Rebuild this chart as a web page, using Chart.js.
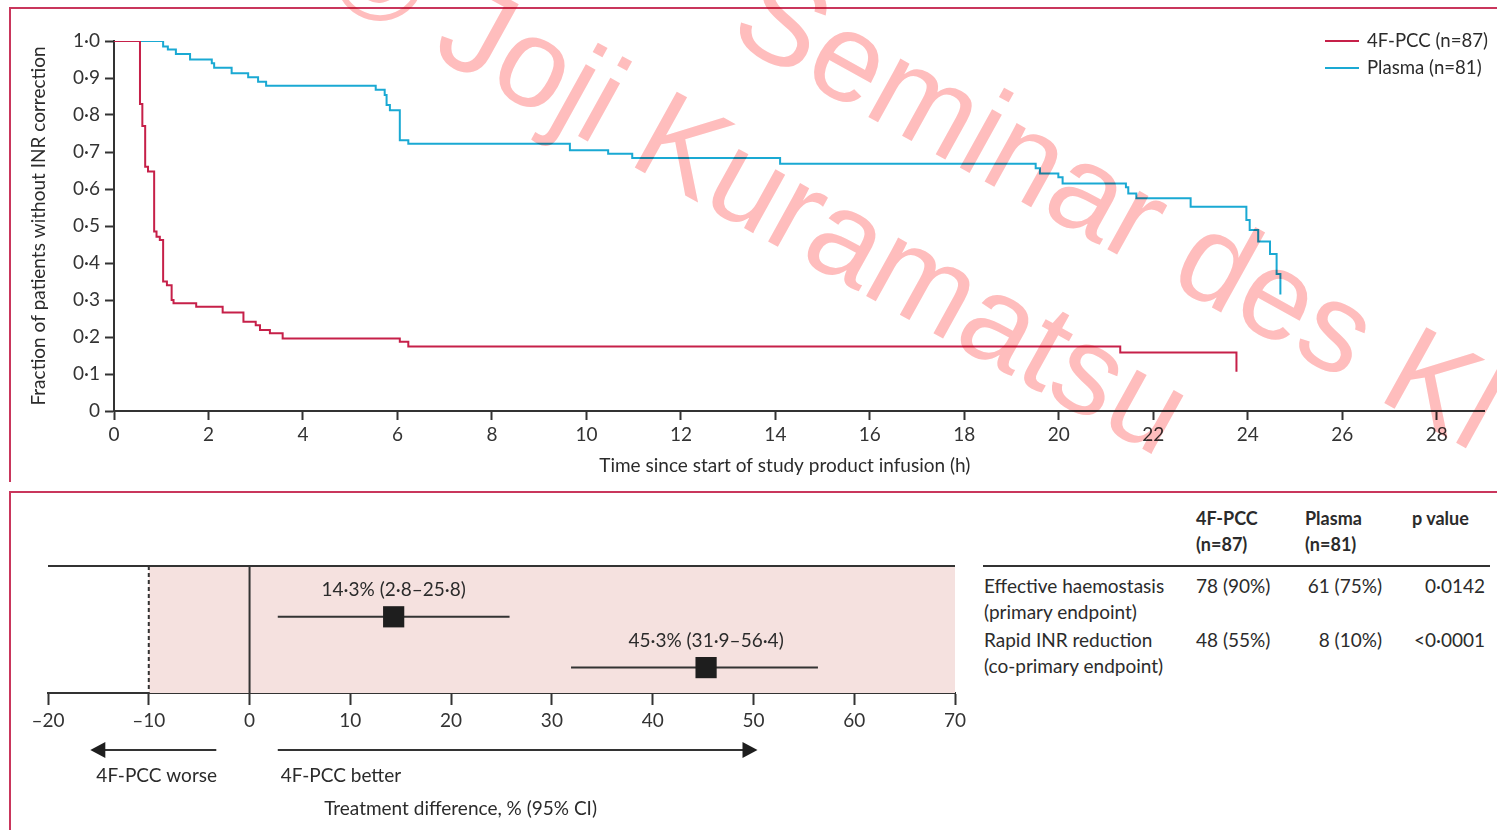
<!DOCTYPE html>
<html>
<head>
<meta charset="utf-8">
<script src="https://cdn.jsdelivr.net/npm/chart.js@4.4.1/dist/chart.umd.min.js"></script>
<style>
  html, body { margin: 0; padding: 0; background: #fff; }
  body { width: 1497px; height: 830px; position: relative; overflow: hidden; font-family: Lato, sans-serif; color: #2b2b2b; }
  .frame { position: absolute; background: #c9365c; }
  #kmWrap { position: absolute; left: 0; top: 0; }
  #forestWrap { position: absolute; left: 0; top: 492px; }
  .cell { position: absolute; font-size: 19px; line-height: 22px; white-space: nowrap; }
  .bold { font-weight: bold; font-size: 18px; }
  .rule { position: absolute; background: #333; height: 2px; }
  #wm { position: absolute; left: 0; top: 0; pointer-events: none; mix-blend-mode: multiply; }
</style>
</head>
<body>

<div class="frame" style="left:10px; top:7px; width:1487px; height:2px"></div>
<div class="frame" style="left:9px; top:7px; width:2px; height:475px"></div>
<div class="frame" style="left:10px; top:491px; width:1487px; height:2px"></div>
<div class="frame" style="left:9px; top:491px; width:2px; height:339px"></div>

<div id="kmWrap"><canvas id="km" width="1497" height="485"></canvas></div>
<div id="forestWrap"><canvas id="forest" width="980" height="338"></canvas></div>
<div id="table"></div>

<svg id="wm" width="1497" height="830">
  <g font-family="Liberation Sans, Arial, sans-serif" font-size="126" fill="#ffbdbd">
    <text x="726" y="38" transform="rotate(29 726 38)">Seminar des Kl</text>
    <text x="318" y="-8" transform="rotate(29 318 -8)">© Joji Kuramatsu</text>
  </g>
</svg>

<script>
// ---- Kaplan-Meier data ----
var seriesNames = ['4F-PCC (n=87)', 'Plasma (n=81)'];

var pccTime = [0, 0.55, 0.60, 0.66, 0.72, 0.85, 0.90, 0.97, 1.04, 1.12, 1.22, 1.26, 1.74, 2.30, 2.74, 3.00, 3.09, 3.30, 3.57, 6.05, 6.23, 21.3, 23.76];
var pccSurv = [1.0, 0.83, 0.77, 0.66, 0.647, 0.485, 0.471, 0.462, 0.35, 0.34, 0.30, 0.291, 0.282, 0.266, 0.241, 0.232, 0.219, 0.21, 0.196, 0.187, 0.174, 0.158, 0.106];

var plasmaTime = [0, 1.04, 1.14, 1.31, 1.61, 2.07, 2.12, 2.49, 2.84, 3.05, 3.22, 5.54, 5.73, 5.77, 5.84, 6.05, 6.23, 9.65, 10.46, 10.97, 14.1, 19.51, 19.6, 19.99, 20.08, 21.42, 21.47, 21.64, 22.79, 23.97, 24.04, 24.22, 24.47, 24.61, 24.69];
var plasmaSurv = [1.0, 0.985, 0.977, 0.965, 0.95, 0.94, 0.928, 0.913, 0.902, 0.89, 0.879, 0.868, 0.854, 0.827, 0.813, 0.732, 0.722, 0.705, 0.695, 0.684, 0.668, 0.656, 0.642, 0.632, 0.615, 0.605, 0.588, 0.575, 0.552, 0.516, 0.489, 0.458, 0.424, 0.37, 0.315];

var kmXTicks = [0, 2, 4, 6, 8, 10, 12, 14, 16, 18, 20, 22, 24, 26, 28];
var kmYTicks = [0, 0.1, 0.2, 0.3, 0.4, 0.5, 0.6, 0.7, 0.8, 0.9, 1.0];
var kmYLabels = ['0', '0·1', '0·2', '0·3', '0·4', '0·5', '0·6', '0·7', '0·8', '0·9', '1·0'];

// ---- forest plot data ----
var outcomes = ['Effective haemostasis', 'Rapid INR reduction'];
var diffEst = [14.3, 45.3];
var diffLow = [2.8, 31.9];
var diffHigh = [25.8, 56.4];
var rowPos = [1.5, 0.5];
var margin = -10;
var forestTicks = [-20, -10, 0, 10, 20, 30, 40, 50, 60, 70];
var forestLabels = ['–20', '–10', '0', '10', '20', '30', '40', '50', '60', '70'];

// ---- table ----
var tableHead = [['4F-PCC', '(n=87)'], ['Plasma', '(n=81)'], ['p value']];
var tableRows = [['Effective haemostasis', '(primary endpoint)'], ['Rapid INR reduction', '(co-primary endpoint)']];
var pccCounts = ['78 (90%)', '48 (55%)'];
var plasmaCounts = ['61 (75%)', '8 (10%)'];
var pValues = ['0·0142', '<0·0001'];

var pccColor = '#c62049';
var plasmaColor = '#1aa9d3';
var ink = '#2b2b2b';
var axisInk = '#333';

Chart.defaults.font.family = 'Lato, sans-serif';
Chart.defaults.font.size = 19;
Chart.defaults.color = ink;

function pts(xs, ys) {
  return xs.map(function (x, i) { return { x: x, y: ys[i] }; });
}

// legend block at top right + x title (centred a bit left of the plot area, as in the original)
var kmLegend = {
  id: 'kmLegend',
  afterDraw: function (chart) {
    var ctx = chart.ctx;
    ctx.save();
    chart.data.datasets.forEach(function (ds, i) {
      var y = 41 + i * 27;
      ctx.strokeStyle = ds.borderColor;
      ctx.lineWidth = 2;
      ctx.beginPath();
      ctx.moveTo(1325, y);
      ctx.lineTo(1359, y);
      ctx.stroke();
      ctx.fillStyle = ink;
      ctx.font = '18.6px Lato, sans-serif';
      ctx.textBaseline = 'middle';
      ctx.fillText(ds.label, 1367, y);
    });
    ctx.font = '19px Lato, sans-serif';
    ctx.textAlign = 'center';
    ctx.fillText('Time since start of study product infusion (h)', chart.scales.x.getPixelForValue(14.2), 466);
    ctx.restore();
  }
};

new Chart(document.getElementById('km').getContext('2d'), {
  type: 'line',
  data: {
    datasets: [{
      label: seriesNames[0],
      data: pts(pccTime, pccSurv),
      stepped: 'before',
      borderColor: pccColor,
      borderWidth: 2,
      pointRadius: 0,
      fill: false
    }, {
      label: seriesNames[1],
      data: pts(plasmaTime, plasmaSurv),
      stepped: 'before',
      borderColor: plasmaColor,
      borderWidth: 2,
      pointRadius: 0,
      fill: false
    }]
  },
  options: {
    responsive: false,
    animation: false,
    layout: { padding: { top: 41, right: 13, left: 0, bottom: 0 } },
    plugins: { legend: { display: false }, tooltip: { enabled: false } },
    scales: {
      x: {
        type: 'linear',
        min: 0,
        max: 29,
        afterBuildTicks: function (s) { s.ticks = kmXTicks.map(function (v) { return { value: v }; }); },
        afterFit: function (s) { s.height = 74; },
        ticks: { padding: 3, maxRotation: 0, color: axisInk, font: { size: 19 } },
        grid: { drawOnChartArea: false, tickLength: 9, tickColor: axisInk, tickWidth: 2 },
        border: { display: true, color: axisInk, width: 2 }
      },
      y: {
        min: 0,
        max: 1,
        afterBuildTicks: function (s) { s.ticks = kmYTicks.map(function (v) { return { value: v }; }); },
        afterFit: function (s) { s.width = 114; },
        ticks: {
          padding: 5,
          color: axisInk,
          font: { size: 19 },
          callback: function (v, i) { return kmYLabels[i]; }
        },
        grid: { drawOnChartArea: false, tickLength: 9, tickColor: axisInk, tickWidth: 2 },
        border: { display: true, color: axisInk, width: 2 },
        title: { display: true, text: 'Fraction of patients without INR correction', padding: { top: 27, bottom: 0 }, font: { size: 19 } }
      }
    }
  },
  plugins: [kmLegend]
});

function fmt(v) { return v.toFixed(1).replace('.', '·'); }

var arrowFrom = [-3.3, 2.8];
var arrowTo = [-15.8, 50.4];
var arrowText = ['4F-PCC worse', '4F-PCC better'];
var arrowTextAt = [-15.2, 3.1];

var forestDeco = {
  id: 'forestDeco',
  beforeDatasetsDraw: function (chart) {
    var x = chart.scales.x, a = chart.chartArea, ctx = chart.ctx;
    var xm = x.getPixelForValue(margin);
    var x0 = x.getPixelForValue(0);
    ctx.save();
    ctx.fillStyle = '#f5e1df';
    ctx.fillRect(xm, a.top, a.right - xm, a.bottom - a.top);
    ctx.strokeStyle = axisInk;
    ctx.lineWidth = 2;
    ctx.beginPath();
    ctx.moveTo(a.left, a.top);
    ctx.lineTo(a.right, a.top);
    ctx.moveTo(x0, a.top);
    ctx.lineTo(x0, a.bottom);
    ctx.stroke();
    ctx.setLineDash([4, 3]);
    ctx.beginPath();
    ctx.moveTo(xm, a.top);
    ctx.lineTo(xm, a.bottom);
    ctx.stroke();
    ctx.restore();
  },
  afterDraw: function (chart) {
    var x = chart.scales.x, y = chart.scales.y, ctx = chart.ctx;
    ctx.save();
    ctx.fillStyle = ink;
    ctx.font = '19px Lato, sans-serif';
    ctx.textAlign = 'center';
    ctx.textBaseline = 'middle';
    diffEst.forEach(function (v, i) {
      var txt = fmt(v) + '% (' + fmt(diffLow[i]) + '–' + fmt(diffHigh[i]) + ')';
      ctx.fillText(txt, x.getPixelForValue(v), y.getPixelForValue(rowPos[i]) - 27);
    });
    // direction arrows
    var ay = 258;
    ctx.strokeStyle = axisInk;
    ctx.lineWidth = 2;
    arrowFrom.forEach(function (f, i) {
      var p0 = x.getPixelForValue(f), p1 = x.getPixelForValue(arrowTo[i]);
      var dir = p1 > p0 ? 1 : -1;
      ctx.beginPath();
      ctx.moveTo(p0, ay);
      ctx.lineTo(p1 - dir * 12, ay);
      ctx.stroke();
      ctx.fillStyle = '#1e1e1e';
      ctx.beginPath();
      ctx.moveTo(p1, ay);
      ctx.lineTo(p1 - dir * 15, ay - 8);
      ctx.lineTo(p1 - dir * 15, ay + 8);
      ctx.closePath();
      ctx.fill();
      ctx.fillStyle = ink;
      ctx.textAlign = 'left';
      ctx.fillText(arrowText[i], x.getPixelForValue(arrowTextAt[i]), 284);
    });
    ctx.fillText('Treatment difference, % (95% CI)', x.getPixelForValue(7.4), 317);
    ctx.restore();
  }
};

var forestSets = [{
  type: 'scatter',
  data: pts(diffEst, rowPos),
  pointStyle: 'rect',
  pointRadius: 15,
  backgroundColor: '#1e1e1e',
  borderColor: '#1e1e1e',
  borderWidth: 0
}];
diffLow.forEach(function (lo, i) {
  forestSets.push({
    type: 'line',
    data: pts([lo, diffHigh[i]], [rowPos[i], rowPos[i]]),
    borderColor: axisInk,
    borderWidth: 2,
    pointRadius: 0
  });
});

new Chart(document.getElementById('forest').getContext('2d'), {
  type: 'scatter',
  data: { datasets: forestSets },
  options: {
    responsive: false,
    animation: false,
    layout: { padding: { top: 74, left: 48, right: 25, bottom: 0 } },
    plugins: { legend: { display: false }, tooltip: { enabled: false } },
    scales: {
      x: {
        type: 'linear',
        min: -20,
        max: 70,
        afterBuildTicks: function (s) { s.ticks = forestTicks.map(function (v) { return { value: v }; }); },
        afterFit: function (s) { s.height = 137; },
        ticks: {
          padding: 4,
          maxRotation: 0,
          color: axisInk,
          font: { size: 19 },
          callback: function (v, i) { return forestLabels[i]; }
        },
        grid: { drawOnChartArea: false, tickLength: 12, tickColor: axisInk, tickWidth: 2 },
        border: { display: true, color: axisInk, width: 2 }
      },
      y: { display: false, min: 0, max: 2.5 }
    }
  },
  plugins: [forestDeco]
});

// ---- table to the right of the forest plot ----
var tbl = document.getElementById('table');
function cell(text, left, cy, cls, align) {
  var d = document.createElement('div');
  d.className = 'cell' + (cls ? ' ' + cls : '');
  d.textContent = text;
  d.style.top = (cy - 11) + 'px';
  if (align === 'right') { d.style.right = (1497 - left) + 'px'; } else { d.style.left = left + 'px'; }
  tbl.appendChild(d);
}
var headX = [1196, 1305, 1412];
tableHead.forEach(function (h, c) {
  h.forEach(function (t, k) { cell(t, headX[c], 518 + k * 26, 'bold'); });
});
var rule = document.createElement('div');
rule.className = 'rule';
rule.style.left = '983px'; rule.style.top = '565px'; rule.style.width = '507px';
tbl.appendChild(rule);
var rowY = [586, 640];
tableRows.forEach(function (r, i) {
  cell(r[0], 984, rowY[i]);
  cell(r[1], 984, rowY[i] + 26);
  cell(pccCounts[i], 1196, rowY[i]);
  cell(plasmaCounts[i], 1382, rowY[i], '', 'right');
  cell(pValues[i], 1485, rowY[i], '', 'right');
});
</script>
</body>
</html>
